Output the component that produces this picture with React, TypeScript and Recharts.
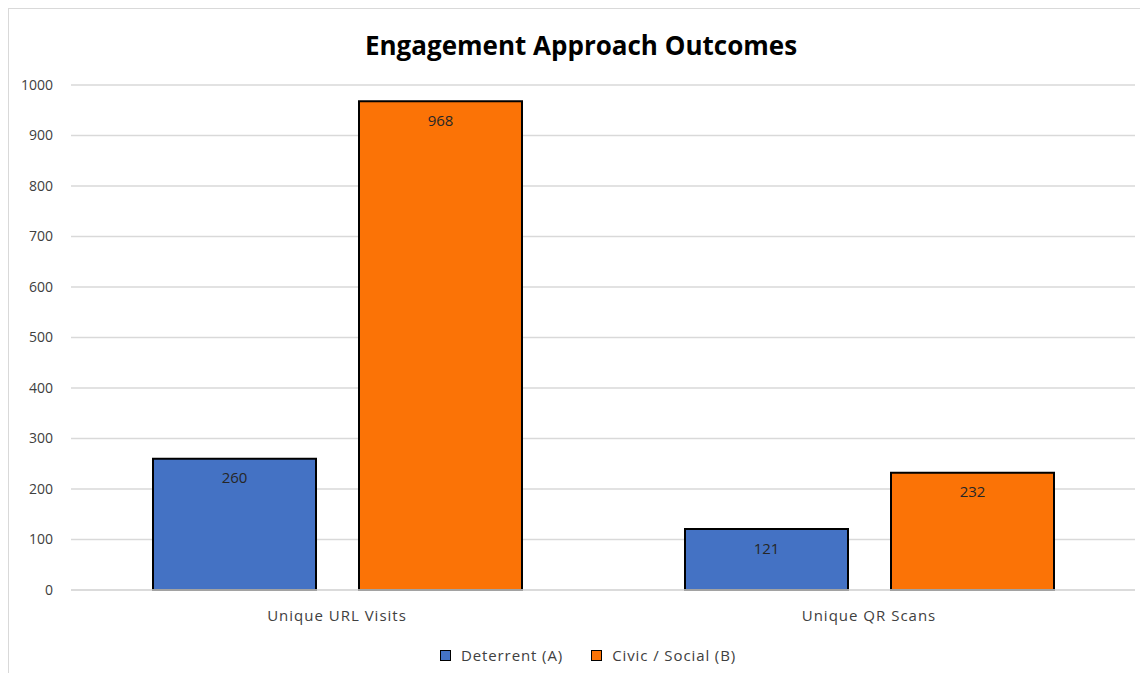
import { BarChart, Bar, XAxis, YAxis, CartesianGrid, Legend, LabelList } from "recharts";

const categories = ["Unique URL Visits", "Unique QR Scans"];
const deterrent = [260, 121];
const civicSocial = [968, 232];
const seriesNames = ["Deterrent (A)", "Civic / Social (B)"];
const yTicks = [0, 100, 200, 300, 400, 500, 600, 700, 800, 900, 1000];

const data = categories.map((name, i) => ({
    name,
    deterrent: deterrent[i],
    civic: civicSocial[i],
}));

const FONT = "'Open Sans', 'Noto Sans', sans-serif";

// legend như Excel: ô vuông nhỏ có viền đen, giữ đúng thứ tự series
const renderLegend = ({ payload }: any) => {
    const items = [...(payload || [])].sort(
        (a: any, b: any) => seriesNames.indexOf(a.value) - seriesNames.indexOf(b.value)
    );
    return (
        <div style={{ display: "flex", justifyContent: "center", gap: 28, fontFamily: FONT, fontSize: 15, letterSpacing: 0.9, color: "#404040", paddingLeft: 20 }}>
            {items.map((entry: any) => (
                <div key={entry.value} style={{ display: "flex", alignItems: "center", gap: 10 }}>
                    <span style={{ width: 9, height: 9, background: entry.color, border: "1px solid #000", display: "inline-block" }} />
                    <span>{entry.value}</span>
                </div>
            ))}
        </div>
    );
};

export default function App() {
    return (
        <div style={{ position: "relative", width: 1132, height: 664, borderTop: "1px solid #d9d9d9", borderLeft: "1px solid #d9d9d9", background: "#fff" }}>
            <div style={{ position: "absolute", top: 18, left: 0, width: 1144, textAlign: "center", fontFamily: FONT, fontWeight: 700, fontSize: 26, color: "#000" }}>
                Engagement Approach Outcomes
            </div>
            <BarChart
                width={1131}
                height={663}
                data={data}
                margin={{ top: 76, right: 5, bottom: 3, left: 12 }}
                barCategoryGap={82}
                barGap={43}
            >
                <CartesianGrid vertical={false} stroke="#d9d9d9" strokeWidth={1.5} />
                <YAxis
                    domain={[0, 1000]}
                    ticks={yTicks}
                    width={50}
                    axisLine={false}
                    tickLine={false}
                    tickSize={0}
                    tickMargin={18}
                    tick={{ fill: "#404040", fontSize: 14, fontFamily: FONT }}
                />
                <XAxis
                    dataKey="name"
                    height={55}
                    axisLine={{ stroke: "#d9d9d9", strokeWidth: 1.5 }}
                    tickLine={false}
                    tickSize={0}
                    tickMargin={20}
                    tick={{ fill: "#404040", fontSize: 15, fontFamily: FONT, letterSpacing: 1 }}
                />
                <Legend verticalAlign="bottom" height={24} content={renderLegend} />
                <Bar dataKey="deterrent" name={seriesNames[0]} fill="#4472C4" stroke="#000" strokeWidth={2} isAnimationActive={false}>
                    <LabelList dataKey="deterrent" position="insideTop" offset={14} fill="#262626" fontSize={15} fontFamily={FONT} />
                </Bar>
                <Bar dataKey="civic" name={seriesNames[1]} fill="#FB7306" stroke="#000" strokeWidth={2} isAnimationActive={false}>
                    <LabelList dataKey="civic" position="insideTop" offset={14} fill="#262626" fontSize={15} fontFamily={FONT} />
                </Bar>
            </BarChart>
        </div>
    );
}
